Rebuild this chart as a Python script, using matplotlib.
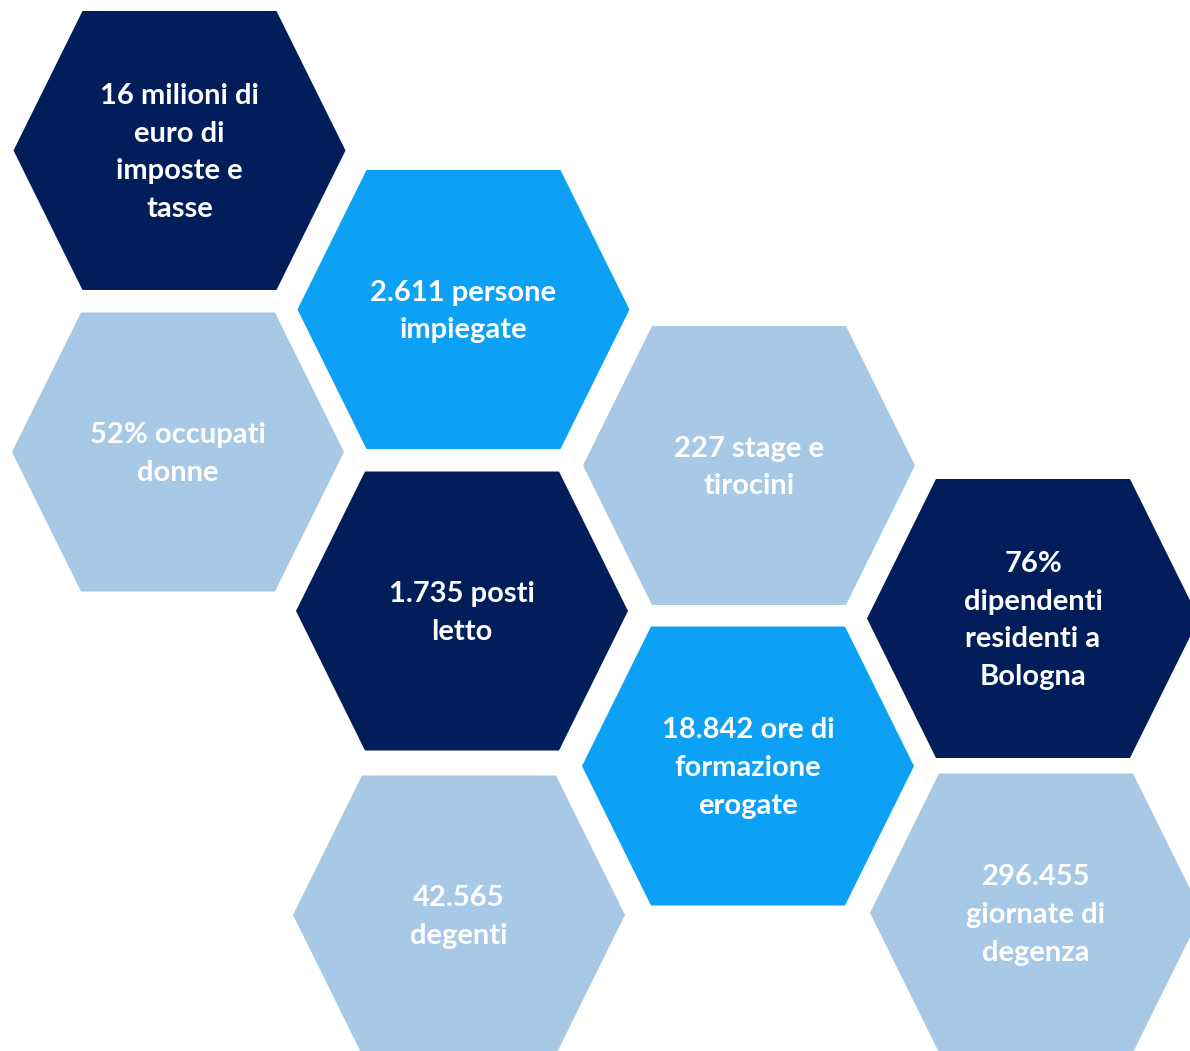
import matplotlib.pyplot as plt
from matplotlib.patches import Polygon

# Testi degli esagoni
labels = [
    "16 milioni di\neuro di\nimposte e\ntasse",
    "2.611 persone\nimpiegate",
    "52% occupati\ndonne",
    "227 stage e\ntirocini",
    "1.735 posti\nletto",
    "76%\ndipendenti\nresidenti a\nBologna",
    "18.842 ore di\nformazione\nerogate",
    "42.565\ndegenti",
    "296.455\ngiornate di\ndegenza",
]
tones = ["navy", "bright", "light", "light", "navy", "navy", "bright", "light", "light"]

# Layout (pixel, origine in alto a sinistra)
centers = [
    (179.5, 150.5), (463.5, 309.5), (178, 452), (749, 465.5), (462, 611),
    (1033, 618.5), (748, 766), (459, 915), (1036, 913),
]
PALETTE = {"navy": "#021E5A", "bright": "#0DA1F5", "light": "#A8C9E6"}
HW, HH, TOP = 166, 139.5, 97

W, H = 1190, 1051
fig = plt.figure(figsize=(W / 100, H / 100), dpi=100)
ax = fig.add_axes([0, 0, 1, 1])
ax.set_xlim(0, W)
ax.set_ylim(H, 0)
ax.axis("off")

for (cx, cy), lab, tone in zip(centers, labels, tones):
    pts = [
        (cx - HW, cy), (cx - TOP, cy - HH), (cx + TOP, cy - HH),
        (cx + HW, cy), (cx + TOP, cy + HH), (cx - TOP, cy + HH),
    ]
    ax.add_patch(Polygon(pts, closed=True, facecolor=PALETTE[tone], edgecolor="none"))
    ax.text(cx, cy + 2, lab, ha="center", va="center", multialignment="center",
            color="white", fontsize=21, fontweight="bold", family="Lato",
            linespacing=1.56)

fig.savefig("out.png", dpi=100)
